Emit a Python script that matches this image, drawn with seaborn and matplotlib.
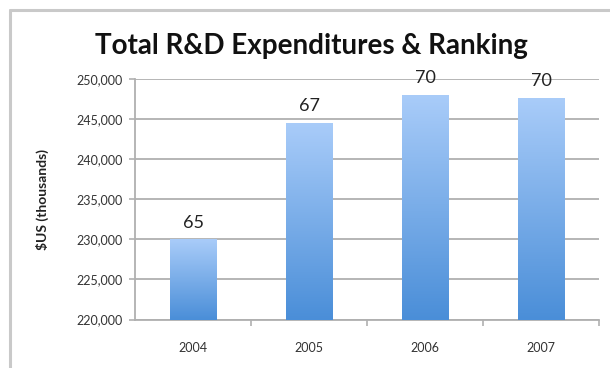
import numpy as np
import pandas as pd
import matplotlib
matplotlib.use("Agg")
import matplotlib.pyplot as plt
from matplotlib.lines import Line2D
from matplotlib.colors import LinearSegmentedColormap
import seaborn as sns

# R&D expenditure per year ($US thousands) and the ranking shown above each bar
years = ["2004", "2005", "2006", "2007"]
expenditures = [230000, 244600, 248100, 247700]
rankings = [65, 67, 70, 70]
y_ticks = [220000, 225000, 230000, 235000, 240000, 245000, 250000]

df = pd.DataFrame({"year": years, "spend": expenditures})

sns.set_theme(style="white")
plt.rcParams["font.family"] = ["Lato", "DejaVu Sans"]

fig = plt.figure(figsize=(6.1, 3.68), dpi=100)
ax = fig.add_axes([135 / 610, 1 - 319.5 / 368, (599 - 135) / 610, (319.5 - 79.3) / 368])

sns.barplot(data=df, x="year", y="spend", ax=ax, width=0.4,
            color="#6fa6e6", saturation=1, edgecolor="none", zorder=2)

ax.set_ylim(220000, 250000)
ax.set_xlim(-0.5, 3.5)

# vertical gradient fill for each bar, light at the top, deeper blue at the base
grad = LinearSegmentedColormap.from_list("bar", ["#4a8ed8", "#a9ccf9"])
g = np.linspace(0, 1, 256).reshape(-1, 1)
for patch in ax.patches:
    x0, y0 = patch.get_x(), patch.get_y()
    w, h = patch.get_width(), patch.get_height()
    y_lo = max(y0, 220000)
    im = ax.imshow(g, cmap=grad, aspect="auto", origin="lower",
                   extent=[x0, x0 + w, y_lo, y0 + h], zorder=3,
                   interpolation="bilinear")
    im.set_clip_path(patch)
    patch.set_facecolor("none")
ax.set_xlim(-0.5, 3.5)
ax.set_ylim(220000, 250000)

# ranking labels above the bars
for i, (v, r) in enumerate(zip(expenditures, rankings)):
    ax.annotate(str(r), (i, v), xytext=(0, 6), textcoords="offset points",
                ha="center", va="bottom", fontsize=13, color="#222222",
                zorder=4, annotation_clip=False)

ax.set_yticks(y_ticks)
ax.set_yticklabels([f"{t:,}" for t in y_ticks])
ax.grid(axis="y", color="#b0b0b0", linewidth=1.3, zorder=0)
ax.set_axisbelow(True)

ax.set_xticks(range(len(years)))
ax.set_xticklabels(years)
ax.set_xticks([0.5, 1.5, 2.5, 3.5], minor=True)
ax.tick_params(axis="x", which="major", length=0, pad=16, labelsize=9, labelcolor="#333333")
ax.tick_params(axis="x", which="minor", length=4, width=1.2, color="#b0b0b0", direction="out", bottom=True)
ax.tick_params(axis="y", length=4, width=1.2, color="#b0b0b0", direction="out",
               left=True, labelsize=9, labelcolor="#333333", pad=5)

for side in ["top", "right"]:
    ax.spines[side].set_visible(False)
for side in ["left", "bottom"]:
    ax.spines[side].set_color("#b0b0b0")
    ax.spines[side].set_linewidth(1.3)

ax.set_xlabel("")
ax.set_ylabel("$US (thousands)", fontsize=10, fontweight="bold", color="#222222")
ax.yaxis.set_label_coords(-0.185, 0.5)

fig.text(311 / 610, 1 - 46 / 368, "Total R&D Expenditures & Ranking", ha="center", va="center",
         fontsize=20, fontweight="bold", color="#111111")

# light grey frame around the chart area
fig.add_artist(Line2D([9.5 / 610, 9.5 / 610], [0, 1 - 9.5 / 368], transform=fig.transFigure,
                      color="#c9c9c9", linewidth=2.2))
fig.add_artist(Line2D([9.5 / 610, 1], [1 - 9.5 / 368, 1 - 9.5 / 368], transform=fig.transFigure,
                      color="#c9c9c9", linewidth=2.2))

fig.savefig("out.png", dpi=100)
